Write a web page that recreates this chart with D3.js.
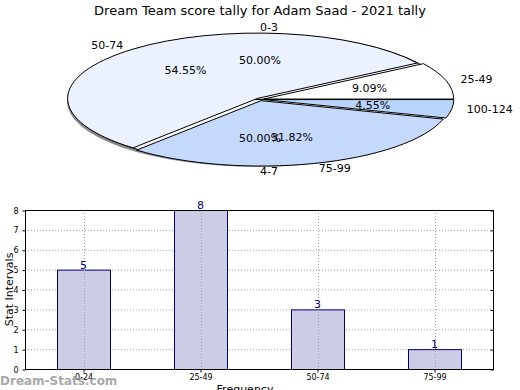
<!DOCTYPE html>
<html>
<head>
<meta charset="utf-8">
<script src="https://cdn.jsdelivr.net/npm/d3@7"></script>
<style>
  body { margin: 0; background: #fff; }
  svg { font-family: "DejaVu Sans", sans-serif; }
</style>
</head>
<body>
<svg id="chart" width="520" height="390"></svg>
<script>
// pie data (two pies drawn on the same ellipse, like the original)
var pieLabels = ["25-49", "50-74", "75-99", "100-124"];
var pieValues = [9.09, 54.55, 31.82, 4.55];
var pieColors = ["#ffffff", "#ebf1fe", "#c5d9fd", "#b9d5fd"];

var pie2Labels = ["0-3", "4-7"];
var pie2Values = [50, 50];
var pie2Colors = ["#ffffff", "#ffffff"];

// bar data
var barCategories = ["0-24", "25-49", "50-74", "75-99"];
var barValues = [5, 8, 3, 1];
var yTicks = [0, 1, 2, 3, 4, 5, 6, 7, 8];

var svg = d3.select("#chart");

svg.append("text")
    .attr("x", 260).attr("y", 15)
    .attr("text-anchor", "middle")
    .style("font-size", "13px")
    .text("Dream Team score tally for Adam Saad - 2021 tally");

// ---- pie ----
var cx = 260, cy = 99.4, rx = 190, ry = 65.4;
var explode = 0.02;

var pieGen = d3.pie().sort(null).startAngle(Math.PI / 2).endAngle(Math.PI / 2 - 2 * Math.PI);
var arcGen = d3.arc().innerRadius(0).outerRadius(1);

function mathAngle(d) {
    return Math.PI / 2 - (d.startAngle + d.endAngle) / 2;
}

var pieG = svg.append("g").attr("transform", "translate(" + cx + "," + cy + ")");

// shadow
pieG.append("ellipse")
    .attr("cx", -3).attr("cy", 2)
    .attr("rx", rx).attr("ry", ry)
    .style("fill", "#8c8c8c");

function drawPie(values, colors, ex) {
    var arcs = pieGen(values);
    pieG.selectAll(null)
        .data(arcs)
        .enter().append("path")
        .attr("transform", function (d) {
            var t = mathAngle(d);
            return "translate(" + (rx * ex * Math.cos(t)) + "," + (-ry * ex * Math.sin(t)) + ") scale(" + rx + "," + ry + ")";
        })
        .attr("d", arcGen)
        .style("fill", function (d, i) { return colors[i]; })
        .style("stroke", "#000")
        .style("stroke-width", 1)
        .attr("vector-effect", "non-scaling-stroke");
    return arcs;
}

function drawPieLabels(labels, arcs) {
    // percentages
    pieG.selectAll(null)
        .data(arcs)
        .enter().append("text")
        .attr("x", function (d) { return rx * 0.6 * Math.cos(mathAngle(d)); })
        .attr("y", function (d) { return -ry * 0.6 * Math.sin(mathAngle(d)); })
        .attr("text-anchor", "middle")
        .attr("dy", "0.35em")
        .style("font-size", "11px")
        .text(function (d) { return d.value.toFixed(2) + "%"; });
    // category labels
    pieG.selectAll(null)
        .data(arcs)
        .enter().append("text")
        .attr("x", function (d) { return rx * 1.1 * Math.cos(mathAngle(d)); })
        .attr("y", function (d) { return -ry * 1.1 * Math.sin(mathAngle(d)); })
        .attr("text-anchor", function (d) { return Math.cos(mathAngle(d)) > -1e-9 ? "start" : "end"; })
        .attr("dy", "0.35em")
        .style("font-size", "11px")
        .text(function (d, i) { return labels[i]; });
}

var arcs2 = drawPie(pie2Values, pie2Colors, 0);
var arcs1 = drawPie(pieValues, pieColors, explode);
drawPieLabels(pie2Labels, arcs2);
drawPieLabels(pieLabels, arcs1);

// ---- bars ----
var plotLeft = 25, plotRight = 493, plotTop = 210, plotBottom = 369;

var x = d3.scalePoint().domain(barCategories).range([plotLeft, plotRight]).padding(0.5);
var y = d3.scaleLinear().domain([0, 8]).range([plotBottom, plotTop]);
var barW = x.step() * 0.45;

var grid = svg.append("g");
grid.selectAll(null)
    .data(yTicks.slice(1, -1))
    .enter().append("line")
    .attr("x1", plotLeft).attr("x2", plotRight)
    .attr("y1", function (d) { return y(d) + 0.5; })
    .attr("y2", function (d) { return y(d) + 0.5; })
    .style("stroke", "#a0a0a0")
    .style("stroke-dasharray", "1,2");

svg.selectAll(".bar")
    .data(barValues)
    .enter().append("rect")
    .attr("class", "bar")
    .attr("x", function (d, i) { return Math.round(x(barCategories[i]) - barW / 2) + 0.5; })
    .attr("y", function (d) { return y(d) + 0.5; })
    .attr("width", Math.round(barW))
    .attr("height", function (d) { return plotBottom - y(d); })
    .style("fill", "#ccccE5")
    .style("stroke", "#000080")
    .style("stroke-width", 1);

var vgrid = svg.append("g");
vgrid.selectAll(null)
    .data(barCategories)
    .enter().append("line")
    .attr("x1", function (d) { return Math.round(x(d)) + 0.5; })
    .attr("x2", function (d) { return Math.round(x(d)) + 0.5; })
    .attr("y1", plotTop).attr("y2", plotBottom)
    .style("stroke", "#a0a0a0")
    .style("stroke-dasharray", "1,2");

svg.selectAll(".val")
    .data(barValues)
    .enter().append("text")
    .attr("class", "val")
    .attr("x", function (d, i) { return x(barCategories[i]); })
    .attr("y", function (d) { return y(d) - 1; })
    .attr("text-anchor", "middle")
    .style("font-size", "11px")
    .style("fill", "#000080")
    .text(function (d) { return d; });

svg.append("rect")
    .attr("x", plotLeft + 0.5).attr("y", plotTop + 0.5)
    .attr("width", plotRight - plotLeft).attr("height", plotBottom - plotTop)
    .style("fill", "none")
    .style("stroke", "#000");

var yAxis = svg.append("g")
    .attr("transform", "translate(" + (plotLeft + 0.5) + ",0.5)")
    .call(d3.axisLeft(y).tickValues(yTicks).tickSize(3).tickPadding(4));
var yAxisR = svg.append("g")
    .attr("transform", "translate(" + (plotRight + 0.5) + ",0.5)")
    .call(d3.axisLeft(y).tickValues(yTicks).tickSize(3).tickFormat(""));
var xAxis = svg.append("g")
    .attr("transform", "translate(0," + (plotBottom + 0.5) + ")")
    .call(d3.axisBottom(x).tickSize(3).tickPadding(2));

[yAxis, yAxisR, xAxis].forEach(function (a) {
    a.select(".domain").remove();
    a.selectAll("text").style("font-size", "8px").style("font-family", "DejaVu Sans, sans-serif");
});

svg.append("text")
    .attr("transform", "translate(13," + ((plotTop + plotBottom) / 2) + ") rotate(-90)")
    .attr("text-anchor", "middle")
    .style("font-size", "11px")
    .text("Stat Intervals");

svg.append("text")
    .attr("x", 245).attr("y", 393)
    .attr("text-anchor", "middle")
    .style("font-size", "11px")
    .text("Frequency");

svg.append("text")
    .attr("x", 0).attr("y", 385)
    .style("font-size", "12px")
    .style("font-weight", "bold")
    .style("fill", "#9a9a9a")
    .style("opacity", 0.85)
    .text("Dream-Stats.com");
</script>
</body>
</html>
